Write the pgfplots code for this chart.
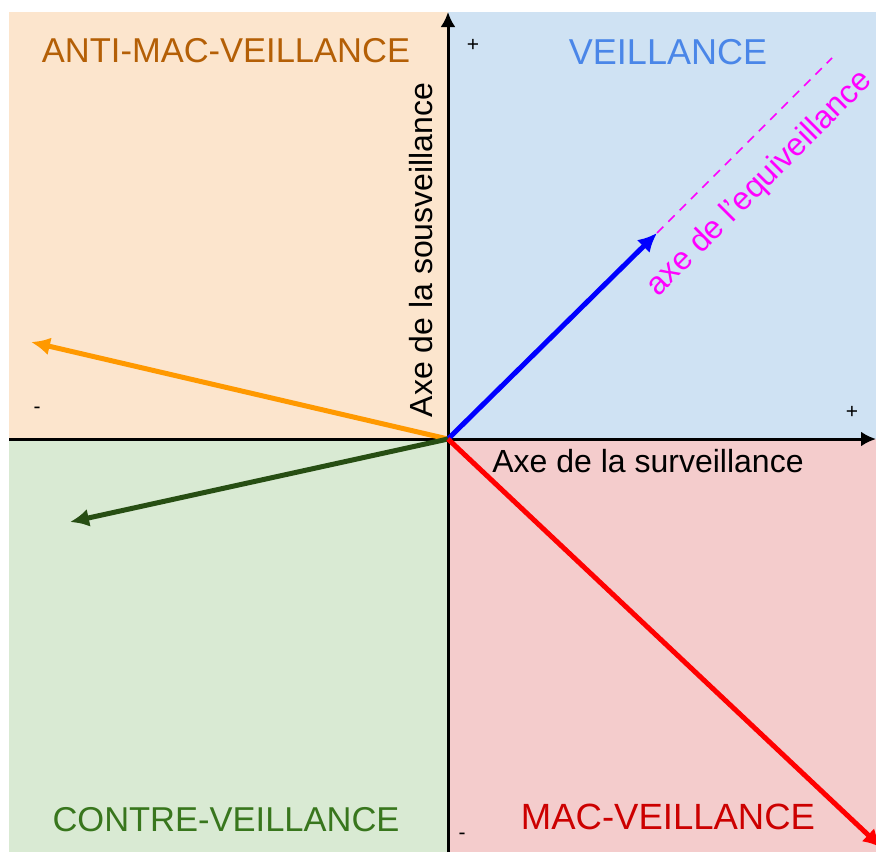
\documentclass[border=0pt]{standalone}
\usepackage{pgfplots}
\pgfplotsset{compat=1.18}
\usepackage{fontspec}
\setmainfont{Liberation Sans}
\usetikzlibrary{arrows.meta}
\definecolor{qorange}{HTML}{FCE5CD}
\definecolor{qblue}{HTML}{CFE2F3}
\definecolor{qgreen}{HTML}{D9EAD3}
\definecolor{qred}{HTML}{F4CCCC}
\definecolor{torange}{HTML}{B45F06}
\definecolor{tblue}{HTML}{4A86E8}
\definecolor{tgreen}{HTML}{38761D}
\definecolor{tred}{HTML}{CC0000}
\definecolor{aorange}{HTML}{FF9900}
\definecolor{ablue}{HTML}{0000FF}
\definecolor{agreen}{HTML}{274E13}
\definecolor{ared}{HTML}{FF0000}
\definecolor{amag}{HTML}{FF00FF}
\begin{document}
\begin{tikzpicture}
\begin{axis}[name=ax,
  scale only axis, width=876pt, height=852pt,
  xmin=0, xmax=876, ymin=0, ymax=852, y dir=reverse,
  axis lines=none, clip=true]
% quadrants
\addplot[draw=none, fill=qorange] coordinates {(9,12) (448,12) (448,439) (9,439)} --cycle;
\addplot[draw=none, fill=qblue] coordinates {(448,12) (876,12) (876,439) (448,439)} --cycle;
\addplot[draw=none, fill=qgreen] coordinates {(9,439) (448,439) (448,852) (9,852)} --cycle;
\addplot[draw=none, fill=qred] coordinates {(448,439) (876,439) (876,852) (448,852)} --cycle;
% axes
\addplot[black, line width=3pt, -{Latex[length=15pt,width=15pt]}] coordinates {(9,439) (876,439)};
\addplot[black, line width=3pt, -{Latex[length=15pt,width=15pt]}] coordinates {(448,852) (448,12)};
% equiveillance dashed
\addplot[amag, line width=1.6pt, dash pattern=on 9pt off 7pt] coordinates {(657,233) (832,58)};
% vectors
\addplot[aorange, line width=5pt, -{Latex[length=19pt,width=18pt]}] coordinates {(448,439) (31,342)};
\addplot[ablue, line width=5pt, -{Latex[length=19pt,width=18pt]}] coordinates {(448,439) (657,233)};
\addplot[agreen, line width=5pt, -{Latex[length=19pt,width=18pt]}] coordinates {(448,439) (70,522)};
\addplot[ared, line width=5pt, -{Latex[length=19pt,width=18pt]}] coordinates {(448,439) (882,848)};
% labels
\node[font=\fontsize{34.5}{34.5}\selectfont, text=torange] at (axis cs:226,51) {ANTI-MAC-VEILLANCE};
\node[font=\fontsize{36}{36}\selectfont, text=tblue] at (axis cs:668,52) {VEILLANCE};
\node[font=\fontsize{34.5}{34.5}\selectfont, text=tgreen] at (axis cs:226,820) {CONTRE-VEILLANCE};
\node[font=\fontsize{36.5}{36.5}\selectfont, text=tred] at (axis cs:668,817) {MAC-VEILLANCE};
\node[font=\fontsize{32}{32}\selectfont, text=black] at (axis cs:648,461) {Axe de la surveillance};
\node[font=\fontsize{32}{32}\selectfont, text=black, rotate=90] at (axis cs:421,250) {Axe de la sousveillance};
\node[font=\fontsize{32}{32}\selectfont, text=amag, rotate=45] at (axis cs:760,184) {axe de l’equiveillance};
\node[font=\fontsize{21}{21}\selectfont] at (axis cs:473,45) {+};
\node[font=\fontsize{21}{21}\selectfont] at (axis cs:852,412) {+};
\node[font=\fontsize{21}{21}\selectfont] at (axis cs:37,410) {-};
\node[font=\fontsize{21}{21}\selectfont] at (axis cs:462,836) {-};
\end{axis}
\pgfresetboundingbox
\path (ax.south west) rectangle (ax.north east);
\end{tikzpicture}
\end{document}
